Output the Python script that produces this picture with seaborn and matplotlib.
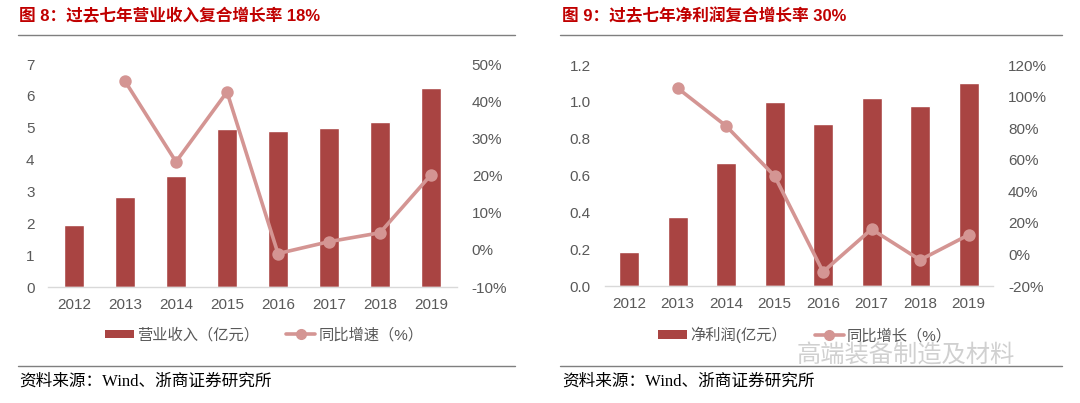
import numpy as np
import pandas as pd
import matplotlib
matplotlib.use("Agg")
import matplotlib.pyplot as plt
import seaborn as sns
from matplotlib.patches import Patch
from matplotlib.lines import Line2D
from matplotlib.ticker import PercentFormatter, FormatStrFormatter, FixedLocator

# -------------------
# DATA
# -------------------
years = ["2012", "2013", "2014", "2015", "2016", "2017", "2018", "2019"]
revenue = [1.95, 2.82, 3.48, 4.96, 4.90, 4.99, 5.18, 6.25]
revenue_growth = [np.nan, 45.4, 23.7, 42.5, -1.0, 2.2, 4.6, 20.2]
profit = [0.185, 0.375, 0.67, 1.00, 0.88, 1.02, 0.98, 1.10]
profit_growth = [np.nan, 105.4, 81.4, 49.7, -11.0, 16.0, -3.5, 12.4]

title_left = "图 8：过去七年营业收入复合增长率 18%"
title_right = "图 9：过去七年净利润复合增长率 30%"
legend_left = ["营业收入（亿元）", "同比增速（%）"]
legend_right = ["净利润(亿元）", "同比增长（%）"]
source = "资料来源：Wind、浙商证券研究所"
watermark = "高端装备制造及材料"

BAR_COLOR = "#A94442"
LINE_COLOR = "#D49593"
TITLE_COLOR = "#C00000"
TICK_COLOR = "#595959"

sns.set_style("white")
plt.rcParams["font.family"] = ["Liberation Sans", "Noto Sans CJK SC"]
plt.rcParams["axes.unicode_minus"] = False

fig = plt.figure(figsize=(10.8, 4.03), dpi=100)


def panel(rect, values, growth, ylim, yticks, gylim, gyticks, yfmt, bar_w):
    ax = fig.add_axes(rect)
    df = pd.DataFrame({"year": years, "value": values, "growth": growth})
    sns.barplot(data=df, x="year", y="value", order=years, color=BAR_COLOR,
                width=bar_w, saturation=1, ax=ax)
    ax.set_ylim(*ylim)
    ax.set_yticks(yticks)
    ax.yaxis.set_major_formatter(yfmt)
    ax.set_xlabel("")
    ax.set_ylabel("")

    ax2 = ax.twinx()
    gdf = df.dropna()
    sns.pointplot(data=gdf, x="year", y="growth", order=years, color=LINE_COLOR,
                  markers="o", markersize=7, linewidth=2.6, errorbar=None, ax=ax2)
    ax2.set_ylim(*gylim)
    ax2.set_yticks(gyticks)
    ax2.yaxis.set_major_formatter(PercentFormatter(decimals=0))
    ax2.set_xlabel("")
    ax2.set_ylabel("")
    ax.set_xlim(-0.5, len(years) - 0.5)
    ax2.set_xlim(-0.5, len(years) - 0.5)

    for a in (ax, ax2):
        for s in ("top", "left", "right", "bottom"):
            a.spines[s].set_visible(False)
    ax.spines["bottom"].set_visible(True)
    ax.spines["bottom"].set_color("#D9D9D9")
    ax.spines["bottom"].set_linewidth(1.0)

    ax.tick_params(axis="x", length=0, labelsize=11, labelcolor=TICK_COLOR, pad=8)
    ax.xaxis.set_minor_locator(FixedLocator(np.arange(-0.5, len(years), 1)))
    ax.tick_params(axis="x", which="minor", length=4, color="#D9D9D9", width=1)
    ax.tick_params(axis="y", length=0, labelsize=11, labelcolor=TICK_COLOR, pad=10)
    ax2.tick_params(axis="y", length=0, labelsize=11, labelcolor=TICK_COLOR, pad=11)
    return ax, ax2


axL, axL2 = panel([0.0449, 0.2878, 0.3778, 0.5533], revenue, revenue_growth,
                  (0, 7), range(0, 8), (-10, 50), range(-10, 51, 10),
                  FormatStrFormatter("%d"), 0.4)
axR, axR2 = panel([0.5600, 0.2903, 0.3593, 0.5484], profit, profit_growth,
                  (0, 1.2), np.arange(0, 1.21, 0.2), (-20, 120), range(-20, 121, 20),
                  FormatStrFormatter("%.1f"), 0.41)

# titles
title_kw = dict(fontsize=12, fontweight="bold", color=TITLE_COLOR, va="center",
                family=["Liberation Sans", "Noto Sans CJK SC"])
fig.text(19 / 1080, 1 - 16 / 403, title_left, **title_kw)
fig.text(562 / 1080, 1 - 16 / 403, title_right, **title_kw)

# separator lines
for x0, x1 in ((18, 515), (560, 1062)):
    fig.add_artist(Line2D([x0 / 1080, x1 / 1080], [1 - 35 / 403] * 2,
                          color="#7F7F7F", linewidth=1.0))
    fig.add_artist(Line2D([x0 / 1080, x1 / 1080], [1 - 366 / 403] * 2,
                          color="#7F7F7F", linewidth=1.0))


# legends
def legend_for(labels, cx):
    handles = [Patch(facecolor=BAR_COLOR, edgecolor="none"),
               Line2D([0], [0], color=LINE_COLOR, linewidth=2.6, marker="o",
                      markersize=7)]
    leg = fig.legend(handles, labels, loc="center", ncol=2, frameon=False,
                     bbox_to_anchor=(cx / 1080, 1 - 335 / 403),
                     prop={"family": ["Liberation Sans", "Noto Sans CJK SC"], "size": 11},
                     handlelength=1.9, handleheight=0.5, handletextpad=0.2,
                     columnspacing=1.8)
    for t in leg.get_texts():
        t.set_color(TICK_COLOR)


legend_for(legend_left, 264)
legend_for(legend_right, 805)

# source notes
src_kw = dict(fontsize=12, color="black", va="center",
              family=["Liberation Serif", "Noto Sans CJK SC"])
fig.text(19 / 1080, 1 - 382 / 403, source, **src_kw)
fig.text(562 / 1080, 1 - 382 / 403, source, **src_kw)

# watermark
fig.text(797 / 1080, 1 - 356 / 403, watermark, fontsize=17.5, color="#C8C8C8",
         alpha=0.85, va="center", family=["Noto Sans CJK SC"])

fig.savefig("out.png", dpi=100)
